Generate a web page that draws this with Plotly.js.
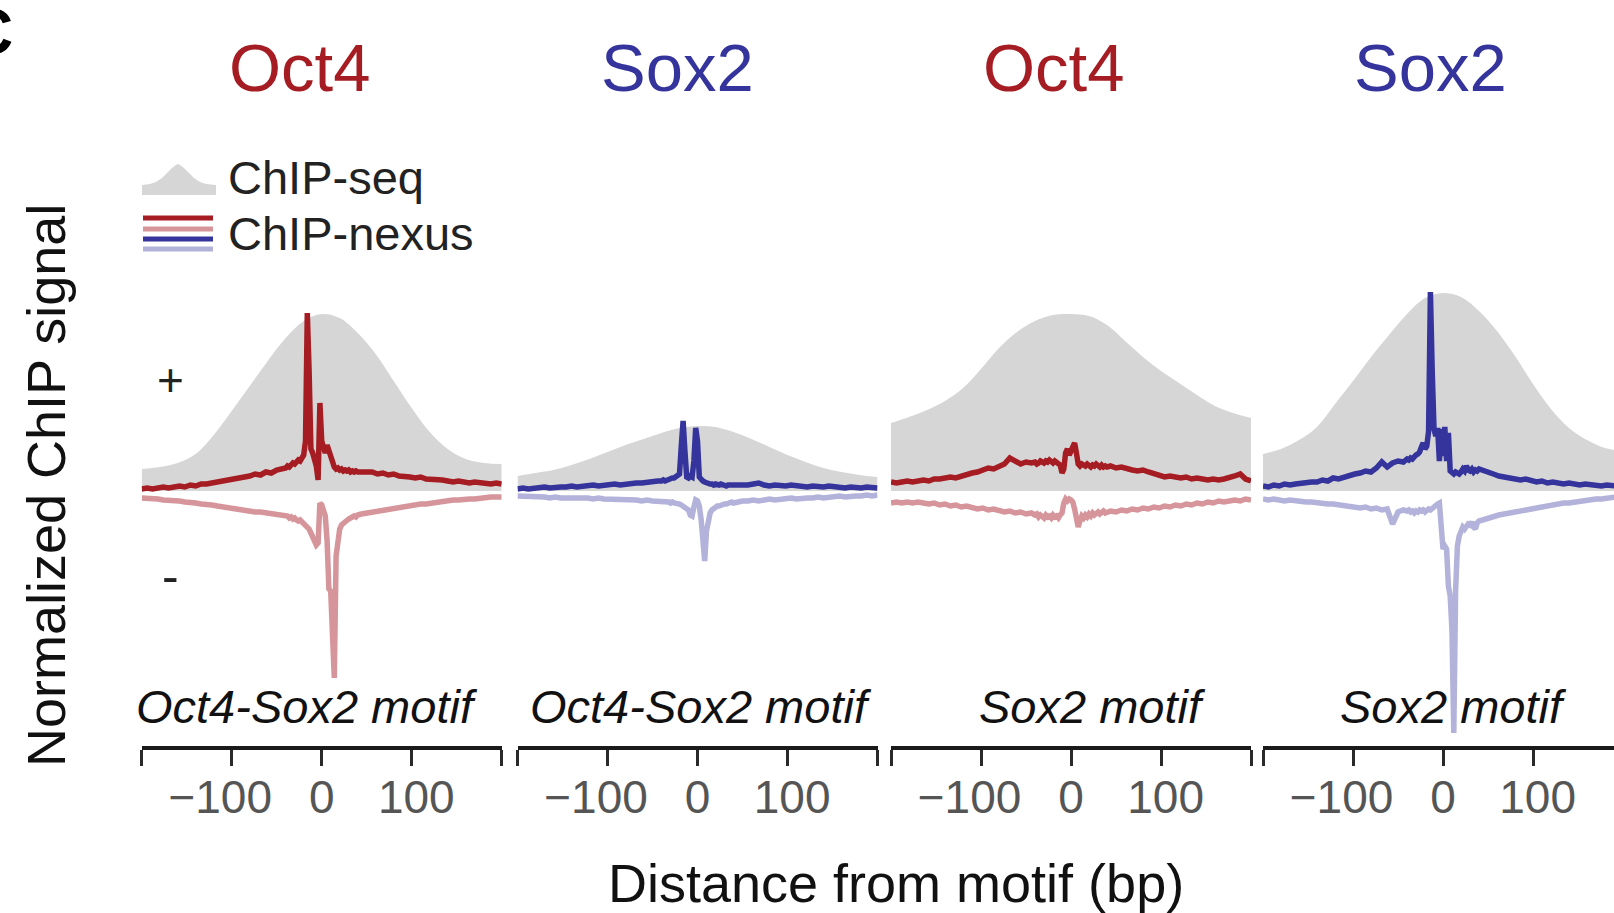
<!DOCTYPE html>
<html><head><meta charset="utf-8">
<script src="https://cdn.plot.ly/plotly-3.0.1.min.js"></script>
<style>html,body{margin:0;padding:0;background:#fff}#chart{width:1614px;height:913px}</style>
</head><body><div id="chart"></div>
<script>
// ---------------- DATA ----------------
const panelTitles = ['Oct4', 'Sox2', 'Oct4', 'Sox2'];
const motifLabels = ['Oct4-Sox2 motif', 'Oct4-Sox2 motif', 'Sox2 motif', 'Sox2 motif'];
const tickVals = [-200, -100, 0, 100, 200];
const tickLabels = ['', '\u2212100\u2002', '0', '\u2009100', ''];

// ChIP-seq profile positions (bp from motif)
const seqPos = [-200,-180,-160,-140,-120,-100,-80,-60,-40,-20,0,20,40,60,80,100,120,140,160,180,200];
const seqOct4_OS = [0.22,0.24,0.28,0.37,0.56,0.80,1.05,1.30,1.53,1.70,1.77,1.73,1.58,1.37,1.10,0.83,0.59,0.42,0.32,0.28,0.27];
const seqSox2_OS = [0.15,0.18,0.21,0.26,0.32,0.39,0.46,0.52,0.58,0.63,0.65,0.64,0.59,0.52,0.44,0.36,0.29,0.23,0.19,0.16,0.14];
const seqOct4_S  = [0.68,0.74,0.81,0.90,1.03,1.22,1.43,1.59,1.70,1.76,1.77,1.75,1.66,1.50,1.34,1.20,1.08,0.96,0.85,0.78,0.73];
const seqSox2_S  = [0.37,0.42,0.51,0.64,0.87,1.10,1.34,1.56,1.77,1.93,1.98,1.94,1.80,1.60,1.35,1.07,0.82,0.63,0.51,0.43,0.40];

// ChIP-nexus profile positions (bp from motif)
const nexusPos = [-200,-194,-188,-182,-176,-170,-164,-158,-152,-146,-140,-134,-128,-122,-116,-110,-104,-98,-92,-86,-80,-74,-68,-62,-56,-50,-44,
  -40,-38,-36,-34,-32,-30,-28,-26,-24,-22,-20,-18,-16,-14,-12,-10,-8,-6,-4,-2,0,2,4,6,8,10,12,14,16,18,20,22,24,26,28,30,32,34,36,38,40,
  44,50,56,62,68,74,80,86,92,98,104,110,116,122,128,134,140,146,152,158,164,170,176,182,188,194,200];

// Oct4 at Oct4-Sox2 motif
const oct4OS_plus = [0.02,0.03,0.02,0.03,0.04,0.03,0.04,0.05,0.04,0.06,0.05,0.07,0.07,0.08,0.09,0.10,0.10,0.12,0.12,0.14,0.15,0.17,0.16,0.19,0.18,0.21,0.22,
  0.23,0.25,0.24,0.26,0.28,0.27,0.29,0.31,0.30,0.34,0.36,0.50,1.78,1.20,0.42,0.38,0.33,0.25,0.11,0.88,0.50,0.44,0.38,0.46,0.41,0.36,0.27,0.24,0.22,0.23,0.21,0.22,0.20,0.21,0.20,0.21,0.19,0.20,0.19,0.20,0.19,
  0.19,0.18,0.19,0.17,0.18,0.16,0.17,0.15,0.15,0.14,0.13,0.14,0.12,0.12,0.11,0.11,0.10,0.09,0.10,0.09,0.08,0.09,0.08,0.08,0.07,0.08,0.07];
const oct4OS_minus = [-0.07,-0.07,-0.08,-0.08,-0.09,-0.09,-0.10,-0.10,-0.11,-0.11,-0.12,-0.13,-0.13,-0.14,-0.15,-0.16,-0.16,-0.17,-0.18,-0.19,-0.20,-0.21,-0.21,-0.22,-0.23,-0.24,-0.25,
  -0.26,-0.25,-0.27,-0.26,-0.28,-0.27,-0.29,-0.30,-0.29,-0.31,-0.32,-0.33,-0.36,-0.38,-0.42,-0.46,-0.50,-0.54,-0.52,-0.12,-0.14,-0.20,-0.25,-0.50,-0.98,-1.00,-1.55,-1.87,-0.65,-0.45,-0.38,-0.34,-0.32,-0.30,-0.29,-0.28,-0.27,-0.26,-0.25,-0.26,-0.24,
  -0.23,-0.22,-0.21,-0.20,-0.19,-0.18,-0.17,-0.16,-0.15,-0.15,-0.14,-0.13,-0.13,-0.12,-0.11,-0.11,-0.10,-0.09,-0.09,-0.08,-0.08,-0.08,-0.07,-0.07,-0.06,-0.06,-0.06];

// Sox2 at Oct4-Sox2 motif
const sox2OS_plus = [0.02,0.03,0.02,0.03,0.03,0.04,0.03,0.04,0.04,0.04,0.05,0.04,0.05,0.05,0.06,0.05,0.06,0.06,0.07,0.06,0.07,0.07,0.08,0.08,0.09,0.09,0.10,
  0.10,0.11,0.10,0.11,0.12,0.12,0.13,0.13,0.14,0.16,0.17,0.45,0.70,0.40,0.14,0.13,0.15,0.14,0.30,0.63,0.50,0.14,0.11,0.10,0.09,0.08,0.08,0.07,0.07,0.06,0.07,0.06,0.06,0.07,0.06,0.06,0.05,0.06,0.06,0.05,0.06,
  0.06,0.05,0.06,0.07,0.08,0.06,0.05,0.06,0.05,0.05,0.06,0.05,0.05,0.04,0.05,0.04,0.04,0.05,0.04,0.04,0.03,0.04,0.03,0.03,0.04,0.03,0.03];
const sox2OS_minus = [-0.05,-0.05,-0.06,-0.05,-0.06,-0.06,-0.07,-0.06,-0.07,-0.07,-0.07,-0.06,-0.07,-0.07,-0.08,-0.07,-0.08,-0.08,-0.08,-0.09,-0.08,-0.09,-0.09,-0.10,-0.09,-0.10,-0.10,
  -0.10,-0.11,-0.10,-0.11,-0.11,-0.12,-0.11,-0.12,-0.12,-0.13,-0.13,-0.14,-0.15,-0.16,-0.17,-0.19,-0.24,-0.25,-0.16,-0.09,-0.10,-0.15,-0.28,-0.55,-0.70,-0.40,-0.27,-0.22,-0.19,-0.17,-0.16,-0.15,-0.15,-0.14,-0.14,-0.13,-0.13,-0.12,-0.12,-0.11,-0.12,
  -0.11,-0.10,-0.10,-0.09,-0.10,-0.09,-0.08,-0.09,-0.08,-0.08,-0.07,-0.08,-0.07,-0.07,-0.07,-0.06,-0.07,-0.06,-0.06,-0.05,-0.06,-0.05,-0.05,-0.05,-0.04,-0.05,-0.04];

// Oct4 at Sox2 motif
const oct4S_plus = [0.09,0.08,0.09,0.10,0.09,0.10,0.11,0.10,0.12,0.12,0.13,0.14,0.13,0.15,0.17,0.18,0.19,0.21,0.23,0.22,0.25,0.27,0.33,0.30,0.27,0.29,0.28,
  0.29,0.27,0.28,0.30,0.29,0.28,0.30,0.29,0.31,0.29,0.28,0.30,0.29,0.27,0.26,0.18,0.22,0.38,0.42,0.36,0.40,0.46,0.48,0.38,0.27,0.25,0.27,0.26,0.25,0.27,0.26,0.24,0.26,0.25,0.27,0.25,0.24,0.26,0.24,0.25,0.24,
  0.25,0.23,0.24,0.22,0.21,0.20,0.21,0.19,0.17,0.16,0.14,0.15,0.14,0.13,0.14,0.12,0.13,0.12,0.11,0.12,0.11,0.12,0.13,0.15,0.17,0.12,0.10];
const oct4S_minus = [-0.12,-0.11,-0.12,-0.11,-0.12,-0.11,-0.12,-0.13,-0.12,-0.14,-0.13,-0.15,-0.14,-0.16,-0.15,-0.17,-0.18,-0.17,-0.19,-0.18,-0.20,-0.21,-0.20,-0.22,-0.21,-0.23,-0.22,
  -0.24,-0.23,-0.26,-0.24,-0.25,-0.27,-0.24,-0.26,-0.25,-0.27,-0.24,-0.26,-0.25,-0.27,-0.24,-0.22,-0.12,-0.08,-0.10,-0.08,-0.09,-0.11,-0.18,-0.28,-0.36,-0.30,-0.25,-0.27,-0.24,-0.26,-0.23,-0.25,-0.22,-0.24,-0.23,-0.21,-0.23,-0.22,-0.20,-0.22,-0.21,
  -0.20,-0.21,-0.19,-0.20,-0.18,-0.19,-0.17,-0.18,-0.16,-0.17,-0.15,-0.16,-0.14,-0.15,-0.13,-0.14,-0.12,-0.13,-0.11,-0.12,-0.10,-0.11,-0.10,-0.09,-0.10,-0.08,-0.09];

// Sox2 at Sox2 motif
const sox2S_plus = [0.05,0.04,0.06,0.05,0.07,0.06,0.07,0.08,0.08,0.09,0.09,0.11,0.10,0.13,0.12,0.14,0.15,0.17,0.18,0.20,0.19,0.23,0.29,0.24,0.28,0.30,0.29,
  0.32,0.31,0.33,0.32,0.35,0.36,0.37,0.39,0.44,0.48,0.42,0.45,0.60,1.99,1.20,0.62,0.55,0.63,0.30,0.62,0.35,0.64,0.30,0.58,0.20,0.18,0.17,0.19,0.18,0.17,0.19,0.22,0.20,0.25,0.21,0.20,0.22,0.19,0.21,0.20,0.22,
  0.21,0.19,0.17,0.15,0.14,0.13,0.12,0.11,0.12,0.10,0.09,0.10,0.08,0.09,0.08,0.07,0.08,0.07,0.06,0.07,0.06,0.06,0.05,0.06,0.05,0.05,0.05];
const sox2S_minus = [-0.08,-0.09,-0.08,-0.09,-0.10,-0.09,-0.10,-0.10,-0.11,-0.11,-0.12,-0.12,-0.13,-0.13,-0.14,-0.15,-0.15,-0.16,-0.17,-0.16,-0.18,-0.17,-0.19,-0.18,-0.33,-0.21,-0.19,
  -0.20,-0.19,-0.21,-0.20,-0.22,-0.20,-0.21,-0.19,-0.20,-0.19,-0.21,-0.19,-0.18,-0.19,-0.17,-0.16,-0.14,-0.13,-0.12,-0.40,-0.58,-0.55,-0.58,-0.95,-1.05,-1.40,-2.42,-1.00,-0.55,-0.45,-0.40,-0.36,-0.38,-0.35,-0.33,-0.34,-0.31,-0.36,-0.38,-0.32,-0.30,
  -0.29,-0.27,-0.26,-0.24,-0.23,-0.22,-0.21,-0.19,-0.18,-0.17,-0.16,-0.15,-0.14,-0.14,-0.13,-0.12,-0.12,-0.11,-0.10,-0.10,-0.09,-0.08,-0.08,-0.07,-0.06,-0.06,-0.05];

// ---------------- LAYOUT / STYLE ----------------
const W = 1614, H = 913;
const FONT = 'Liberation Sans, Arial, Helvetica, sans-serif';
const RED = '#a51c22', RED_L = '#d6959a', BLUE = '#34349c', BLUE_L = '#b2b2da', GRAY = '#d6d6d6';
const px = x => x / W;
const py = y => 1 - y / H;

const seqSets   = [seqOct4_OS, seqSox2_OS, seqOct4_S, seqSox2_S];
const plusSets  = [oct4OS_plus, sox2OS_plus, oct4S_plus, sox2S_plus];
const minusSets = [oct4OS_minus, sox2OS_minus, oct4S_minus, sox2S_minus];
const darkCols  = [RED, BLUE, RED, BLUE];
const lightCols = [RED_L, BLUE_L, RED_L, BLUE_L];

const panelLeft = [141.7, 517.5, 891, 1263];   // pixel left edge of each panel
const bpPx = 0.9;                               // pixels per bp
const baseY = 491, yScale = 100;                // zero line pixel, px per unit

const traces = [];
const layout = {
  width: W, height: H,
  margin: {l: 0, r: 0, t: 0, b: 0},
  paper_bgcolor: '#fff', plot_bgcolor: 'rgba(0,0,0,0)',
  showlegend: false,
  font: {family: FONT},
  yaxis: {domain: [0, 1], range: [-(H - baseY) / yScale, baseY / yScale], visible: false, fixedrange: true},
  annotations: [], shapes: []
};

for (let i = 0; i < 4; i++) {
  const xa = i === 0 ? 'x' : 'x' + (i + 1);
  const key = i === 0 ? 'xaxis' : 'xaxis' + (i + 1);
  const x0 = panelLeft[i];
  const x1 = Math.min(W, x0 + 400 * bpPx);
  const rMax = -200 + (x1 - x0) / bpPx;
  layout[key] = {
    domain: [px(x0), px(x1)], range: [-200, rMax],
    anchor: 'free', position: py(748),
    showline: true, linewidth: 4, linecolor: '#1a1a1a',
    ticks: 'outside', ticklen: 16, tickwidth: 3, tickcolor: '#2a2a2a',
    tickmode: 'array', tickvals: tickVals, ticktext: tickLabels,
    tickfont: {size: 46, color: '#555', family: FONT},
    ticklabelstandoff: -8,
    showgrid: false, zeroline: false, fixedrange: true
  };
  traces.push({x: seqPos, y: seqSets[i], xaxis: xa, yaxis: 'y', type: 'scatter', mode: 'lines',
    line: {width: 0, shape: 'spline', color: GRAY}, fill: 'tozeroy', fillcolor: GRAY, hoverinfo: 'skip'});
  traces.push({x: nexusPos, y: minusSets[i], xaxis: xa, yaxis: 'y', type: 'scatter', mode: 'lines',
    line: {width: 5.5, color: lightCols[i]}, hoverinfo: 'skip'});
  traces.push({x: nexusPos, y: plusSets[i], xaxis: xa, yaxis: 'y', type: 'scatter', mode: 'lines',
    line: {width: 5.5, color: darkCols[i]}, hoverinfo: 'skip'});
}

const titleX = [300, 677, 1054, 1430];
const motifX = [307, 701, 1092, 1453];
const ann = layout.annotations;
for (let i = 0; i < 4; i++) {
  ann.push({xref: 'paper', yref: 'paper', x: px(titleX[i]), y: py(68), xanchor: 'center', yanchor: 'middle',
    text: panelTitles[i], showarrow: false, font: {size: 67, color: darkCols[i], family: FONT}});
  ann.push({xref: 'paper', yref: 'paper', x: px(motifX[i]), y: py(706), xanchor: 'center', yanchor: 'middle',
    text: '<i>' + motifLabels[i] + '</i>', showarrow: false, font: {size: 47, color: '#111', family: FONT}});
}
ann.push({xref: 'paper', yref: 'paper', x: px(896), y: py(883), xanchor: 'center', yanchor: 'middle',
  text: 'Distance from motif (bp)', showarrow: false, font: {size: 54, color: '#111', family: FONT}});
ann.push({xref: 'paper', yref: 'paper', x: px(46), y: py(486), xanchor: 'center', yanchor: 'middle', textangle: -90,
  text: 'Normalized ChIP signal', showarrow: false, font: {size: 54, color: '#111', family: FONT}});
ann.push({xref: 'paper', yref: 'paper', x: px(170), y: py(380), xanchor: 'center', yanchor: 'middle',
  text: '+', showarrow: false, font: {size: 46, color: '#222', family: FONT}});
ann.push({xref: 'paper', yref: 'paper', x: px(170), y: py(576), xanchor: 'center', yanchor: 'middle',
  text: '-', showarrow: false, font: {size: 50, color: '#222', family: FONT}});
ann.push({xref: 'paper', yref: 'paper', x: px(226), y: py(177), xanchor: 'left', yanchor: 'middle',
  text: 'ChIP-seq', showarrow: false, font: {size: 47, color: '#222', family: FONT}});
ann.push({xref: 'paper', yref: 'paper', x: px(226), y: py(233), xanchor: 'left', yanchor: 'middle',
  text: 'ChIP-nexus', showarrow: false, font: {size: 47, color: '#222', family: FONT}});
ann.push({xref: 'paper', yref: 'paper', x: px(15), y: py(32), xanchor: 'right', yanchor: 'middle',
  text: '<b>C</b>', showarrow: false, font: {size: 64, color: '#000', family: FONT}});

// legend icon: small ChIP-seq hump
const iconX = [142,150,156,162,167,172,176,178,180,184,189,194,200,206,216];
const iconY = [185,184,182,178,173,168,165,164,165,168,173,178,182,184,185];
let path = 'M ' + px(142) + ',' + py(195);
for (let k = 0; k < iconX.length; k++) path += ' L ' + px(iconX[k]) + ',' + py(iconY[k]);
path += ' L ' + px(216) + ',' + py(195) + ' Z';
layout.shapes.push({type: 'path', xref: 'paper', yref: 'paper', path: path, fillcolor: GRAY, line: {width: 0}});
const legLines = [[218, RED], [229, RED_L], [239, BLUE], [249, BLUE_L]];
legLines.forEach(([yy, c]) => layout.shapes.push({type: 'line', xref: 'paper', yref: 'paper',
  x0: px(143), x1: px(213), y0: py(yy), y1: py(yy), line: {color: c, width: 5}}));

Plotly.newPlot('chart', traces, layout, {staticPlot: true, displayModeBar: false});
</script>
</body></html>
